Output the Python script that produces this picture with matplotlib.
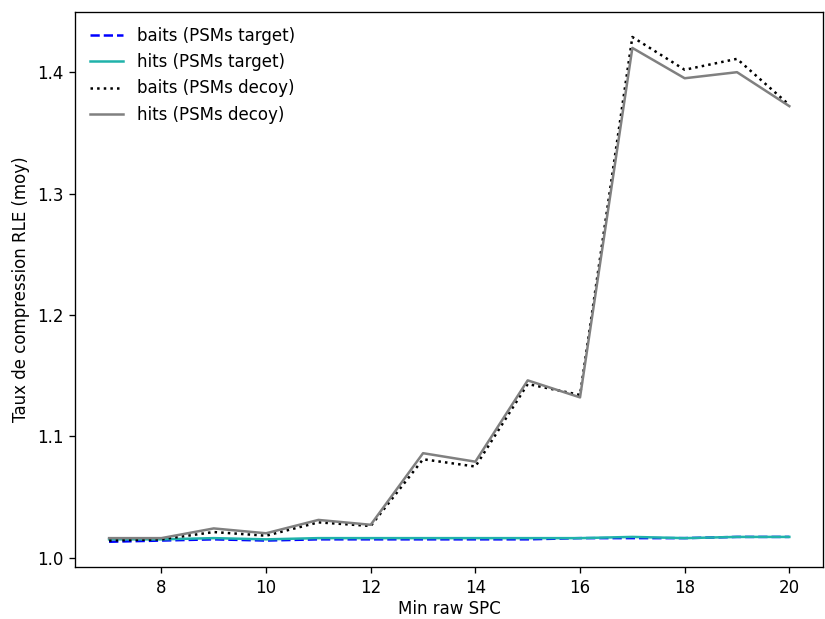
import matplotlib
matplotlib.use("Agg")
import matplotlib.pyplot as plt

min_spc = [7, 8, 9, 10, 11, 12, 13, 14, 15, 16, 17, 18, 19, 20]

baits_target = [1.013, 1.014, 1.015, 1.014, 1.015, 1.015, 1.015, 1.015, 1.015, 1.016, 1.016, 1.016, 1.017, 1.017]
hits_target = [1.015, 1.015, 1.016, 1.015, 1.016, 1.016, 1.016, 1.016, 1.016, 1.016, 1.017, 1.016, 1.017, 1.017]
baits_decoy = [1.014, 1.015, 1.021, 1.018, 1.029, 1.026, 1.081, 1.075, 1.143, 1.134, 1.429, 1.402, 1.411, 1.373]
hits_decoy = [1.016, 1.016, 1.024, 1.020, 1.031, 1.027, 1.086, 1.079, 1.146, 1.132, 1.420, 1.395, 1.400, 1.372]

DPI = 120
fig, ax = plt.subplots(figsize=(825 / DPI, 619 / DPI), dpi=DPI)

ax.plot(min_spc, baits_target, color="blue", linestyle="--", label="baits (PSMs target)")
ax.plot(min_spc, hits_target, color="lightseagreen", linestyle="-", label="hits (PSMs target)")
ax.plot(min_spc, baits_decoy, color="black", linestyle=":", label="baits (PSMs decoy)")
ax.plot(min_spc, hits_decoy, color="grey", linestyle="-", label="hits (PSMs decoy)")

ax.set_xlabel("Min raw SPC", labelpad=2)
ax.set_ylabel("Taux de compression RLE (moy)")
ax.set_xticks([8, 10, 12, 14, 16, 18, 20])
ax.set_yticks([1.0, 1.1, 1.2, 1.3, 1.4])
ax.legend(loc="upper left", frameon=False)

fig.subplots_adjust(left=0.091, right=0.998, top=0.981, bottom=0.084)
fig.savefig("out.png", dpi=DPI)
